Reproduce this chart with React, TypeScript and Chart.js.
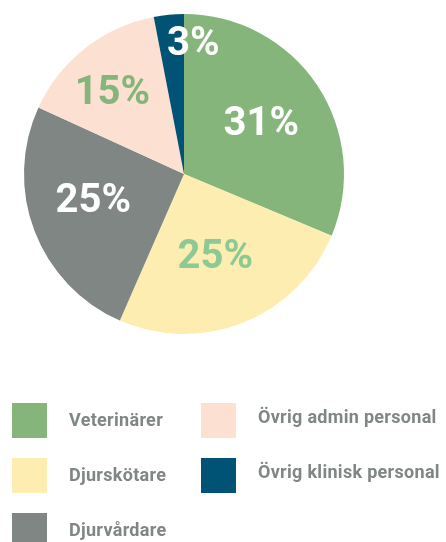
import React, { useEffect, useRef } from "react";
import { Chart, registerables } from "chart.js";

Chart.register(...registerables);

const categories = ["Veterinärer", "Djurskötare", "Djurvårdare", "Övrig admin personal", "Övrig klinisk personal"];
const shares = [31, 25, 25, 15, 3];
const sliceColors = ["#86B57B", "#FDEDB0", "#7F8684", "#FCE1D2", "#005375"];
const labelColors = ["#FFFFFF", "#8DC995", "#FFFFFF", "#86B57B", "#FFFFFF"];
const valueLabels = ["31%", "25%", "25%", "15%", "3%"];

// label placement tweaks: radial fraction and angle shift (degrees)
const labelRadial = [0.58, 0.55, 0.59, 0.68, 0.82];
const labelAngleShift = [0, 1, 5, -3, 9.5];

const legendCols = [[0, 1, 2], [3, 4]];

const piePlugin = {
  id: "customLabels",
  afterDatasetsDraw(chart: any) {
    const ctx = chart.ctx;
    const meta = chart.getDatasetMeta(0);
    ctx.save();
    ctx.font = "bold 40px Roboto";
    ctx.textAlign = "center";
    ctx.textBaseline = "middle";
    meta.data.forEach((arc: any, i: number) => {
      const p = arc.getProps(["x", "y", "startAngle", "endAngle", "outerRadius"], true);
      const mid = (p.startAngle + p.endAngle) / 2 + (labelAngleShift[i] * Math.PI) / 180;
      const r = p.outerRadius * labelRadial[i];
      ctx.fillStyle = labelColors[i];
      ctx.fillText(valueLabels[i], p.x + Math.cos(mid) * r, p.y + Math.sin(mid) * r + 2);
    });
    ctx.restore();
  },
  afterDraw(chart: any) {
    const ctx = chart.ctx;
    ctx.save();
    ctx.font = "bold 18px Roboto";
    ctx.textBaseline = "middle";
    ctx.textAlign = "left";
    const colX = [12, 201];
    legendCols.forEach((col, c) => {
      col.forEach((idx, row) => {
        const top = 403 + row * 55;
        ctx.fillStyle = sliceColors[idx];
        ctx.fillRect(colX[c], top, 35, 35);
        ctx.fillStyle = "#7F8684";
        (ctx as any).letterSpacing = "0.3px";
        ctx.fillText(categories[idx], colX[c] + 57, top + (c === 0 ? 18 : 15));
      });
    });
    ctx.restore();
  },
};

export default function App() {
  const ref = useRef<HTMLCanvasElement>(null);
  useEffect(() => {
    document.body.style.margin = "0";
    const chart = new Chart(ref.current!, {
      type: "pie",
      data: {
        labels: categories,
        datasets: [
          {
            data: shares,
            backgroundColor: sliceColors,
            borderWidth: 0,
          },
        ],
      },
      options: {
        animation: false,
        responsive: false,
        layout: { padding: { left: 24, right: 102, top: 14, bottom: 208 } },
        plugins: { legend: { display: false }, tooltip: { enabled: false } },
      },
      plugins: [piePlugin],
    });
    return () => chart.destroy();
  }, []);
  return (
    <div style={{ width: 446, height: 542, background: "#fff" }}>
      <canvas ref={ref} width={446} height={542} style={{ display: "block" }} />
    </div>
  );
}
